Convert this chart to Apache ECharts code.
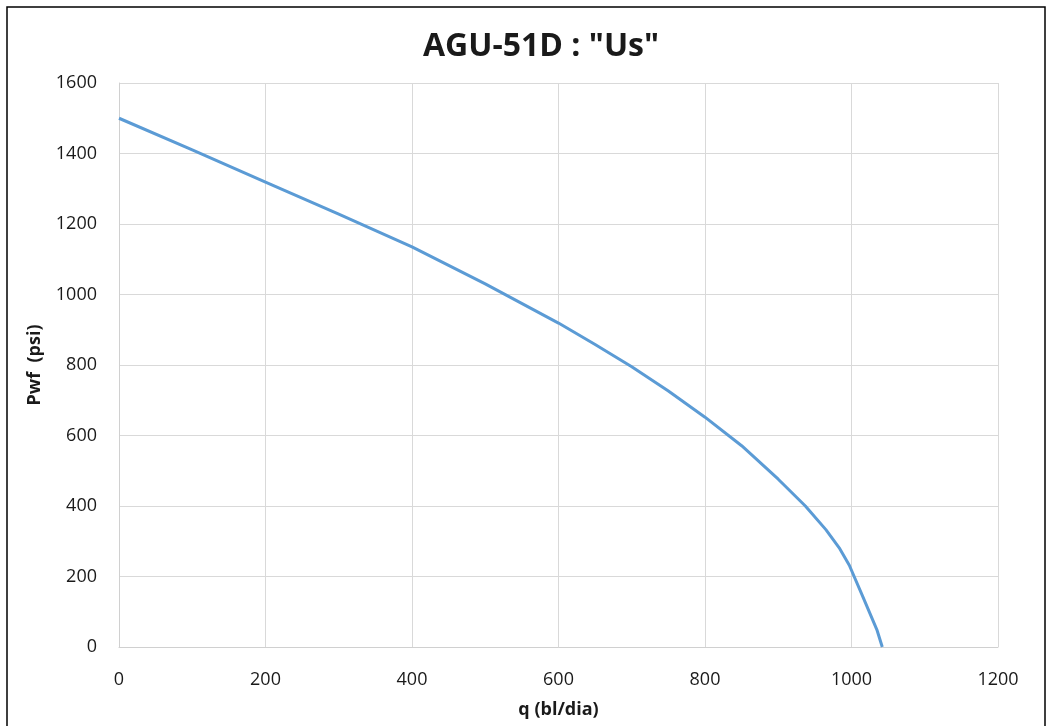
<!DOCTYPE html>
<html>
<head>
<meta charset="utf-8">
<style>
  html, body { margin: 0; padding: 0; background: #fff; }
  #chart { width: 1052px; height: 726px; }
</style>
<script src="https://cdn.jsdelivr.net/npm/echarts@6/dist/echarts.min.js"></script>
</head>
<body>
<div id="chart"></div>
<script>
// Inflow performance curve: flow rate q (bl/dia) vs. flowing pressure Pwf (psi)
const flowRates = [0, 100, 200, 300, 400, 500, 600, 650, 700, 750, 800, 850, 900, 937, 965, 984, 997, 1015, 1035, 1042];
const pwfValues = [1500, 1410, 1319, 1228, 1135, 1030, 919, 858, 795, 726, 652, 571, 476, 400, 333, 279, 232, 145, 47, 0];
const xTicks = { min: 0, max: 1200, interval: 200 };
const yTicks = { min: 0, max: 1600, interval: 200 };

const titleText = 'AGU-51D : "Us"';
const xName = 'q (bl/dia)';
const yName = 'Pwf  (psi)';

const font = '"Open Sans", "Liberation Sans", sans-serif';

const chart = echarts.init(document.getElementById('chart'), null, { renderer: 'canvas' });

chart.setOption({
  backgroundColor: '#ffffff',
  animation: false,
  title: {
    text: titleText,
    left: 418,
    top: 26,
    textStyle: { fontFamily: font, fontSize: 32, fontWeight: 'bold', color: '#1a1a1a' }
  },
  grid: { left: 119, right: 54, top: 83, bottom: 79, containLabel: false },
  xAxis: {
    type: 'value',
    min: xTicks.min, max: xTicks.max, interval: xTicks.interval,
    name: xName,
    nameLocation: 'middle',
    nameGap: 54,
    nameTextStyle: { fontFamily: font, fontSize: 18, fontWeight: 'bold', color: '#1a1a1a' },
    axisLine: { show: true, lineStyle: { color: '#d0d0d0', width: 1 } },
    axisTick: { show: false },
    axisLabel: { fontFamily: font, fontSize: 18, color: '#1a1a1a', margin: 24, formatter: v => String(v) },
    splitLine: { show: true, lineStyle: { color: '#d9d9d9', width: 1 } }
  },
  yAxis: {
    type: 'value',
    min: yTicks.min, max: yTicks.max, interval: yTicks.interval,
    name: yName,
    nameLocation: 'middle',
    nameGap: 75,
    nameTextStyle: { fontFamily: font, fontSize: 18, fontWeight: 'bold', color: '#1a1a1a' },
    axisLine: { show: true, lineStyle: { color: '#d0d0d0', width: 1 } },
    axisTick: { show: false },
    axisLabel: { fontFamily: font, fontSize: 18, color: '#1a1a1a', margin: 22, formatter: v => String(v) },
    splitLine: { show: true, lineStyle: { color: '#d9d9d9', width: 1 } }
  },
  graphic: [{
    type: 'rect',
    shape: { x: 7, y: 7, width: 1038, height: 740 },
    style: { fill: null, stroke: '#000000', lineWidth: 1.5 },
    silent: true,
    z: 100
  }],
  series: [{
    type: 'line',
    data: flowRates.map((q, i) => [q, pwfValues[i]]),
    showSymbol: false,
    smooth: false,
    lineStyle: { color: '#5b9bd5', width: 3, join: 'round' },
    clip: false
  }]
});
</script>
</body>
</html>
